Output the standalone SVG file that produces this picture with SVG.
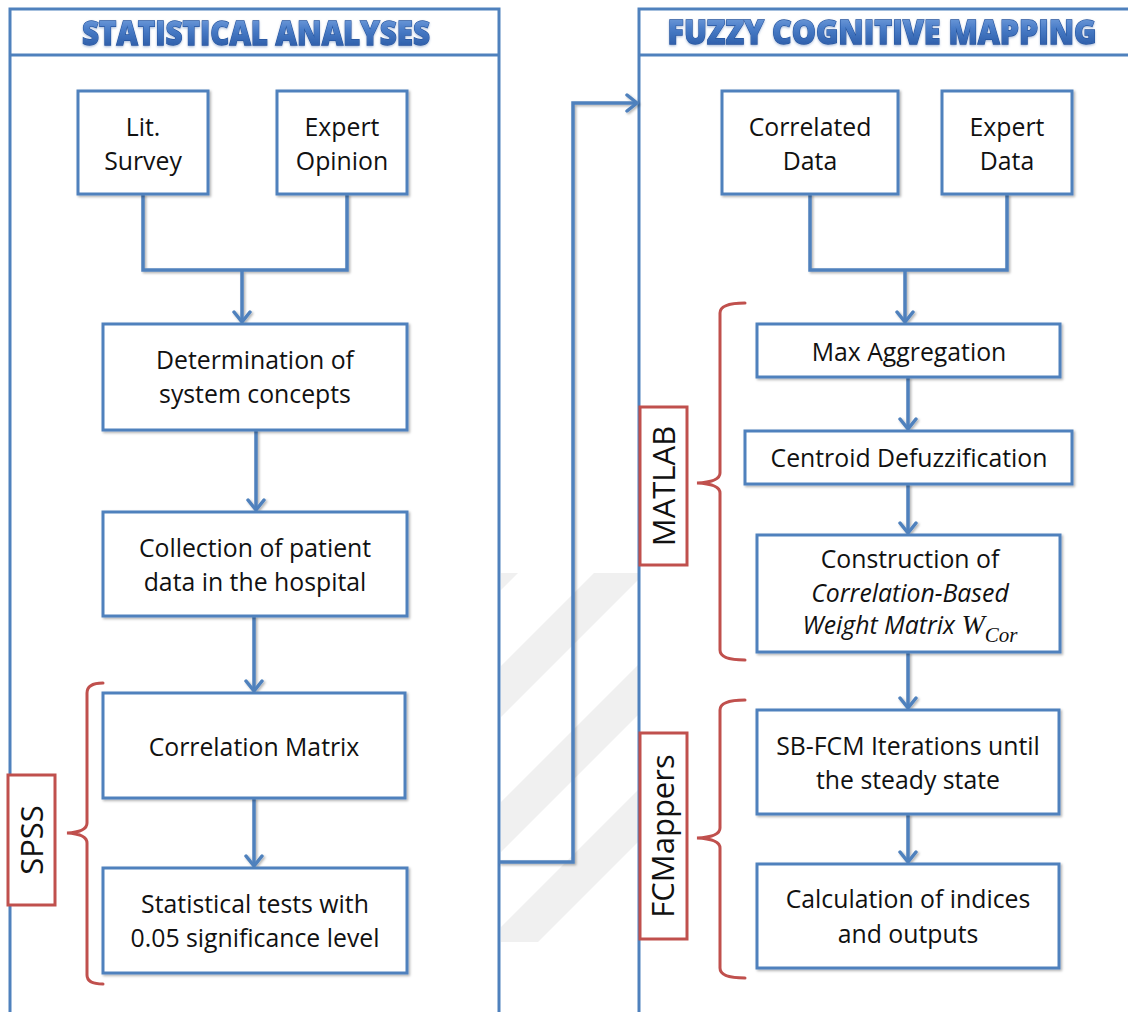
<svg xmlns="http://www.w3.org/2000/svg" width="1128" height="1012" viewBox="0 0 1128 1012">
  <defs>
    <style>
      .frame { fill: none; stroke: #4F81BD; stroke-width: 3; }
      .box { fill: #FFFFFF; stroke: #4F81BD; stroke-width: 3; }
      .link { fill: none; stroke: #4F81BD; stroke-width: 3.5; stroke-linejoin: miter; }
      .brace { fill: none; stroke: #C0504D; stroke-width: 3; stroke-linecap: round; }
      .tag { fill: #FFFFFF; stroke: #C0504D; stroke-width: 3; }
      .lbl { font-family: "Open Sans", "Liberation Sans", sans-serif; font-size: 24.8px; fill: #111111; text-anchor: middle; }
      .it { font-style: italic; }
      .tagtxt { font-family: "Open Sans", "Liberation Sans", sans-serif; font-size: 31px; fill: #111111; text-anchor: middle; }
      .title { font-family: "Open Sans", "Liberation Sans", sans-serif; font-weight: 800; font-size: 27px; text-anchor: middle; fill: url(#titleFill); stroke: #24549E; stroke-width: 1; paint-order: stroke; }
      .wm { fill: #F0F0F0; }
    </style>
    <linearGradient id="titleFill" x1="0" y1="0" x2="0" y2="1">
      <stop offset="0" stop-color="#8FB4E8"/>
      <stop offset="0.45" stop-color="#4A7DC8"/>
      <stop offset="1" stop-color="#1F4E9A"/>
    </linearGradient>
    <filter id="shadow" x="-5%" y="-5%" width="115%" height="115%">
      <feDropShadow dx="1.5" dy="1.5" stdDeviation="1.2" flood-color="#000000" flood-opacity="0.3"/>
    </filter>
    <filter id="glow" x="-10%" y="-60%" width="120%" height="220%">
      <feDropShadow dx="0" dy="1" stdDeviation="1" flood-color="#5A7FB8" flood-opacity="0.5"/>
    </filter>
    <marker id="chev" viewBox="0 0 14 20" refX="12" refY="10" markerWidth="14" markerHeight="20" markerUnits="userSpaceOnUse" orient="auto">
      <path d="M2,2 L12,10 L2,18" fill="none" stroke="#4F81BD" stroke-width="3.5" stroke-linecap="round" stroke-linejoin="round"/>
    </marker>
    <clipPath id="gap">
      <rect x="501" y="573" width="137" height="369"/>
    </clipPath>
  </defs>

  <rect x="0" y="0" width="1128" height="1012" fill="#FFFFFF"/>

  <!-- faint diagonal background stripes between the two panels -->
  <g id="backdrop-stripes" clip-path="url(#gap)">
    <polygon class="wm" points="1040,0 1091,0 91,1000 40,1000"/>
    <polygon class="wm" points="1167,0 1218,0 218,1000 167,1000"/>
    <polygon class="wm" points="1303,0 1353,0 353,1000 303,1000"/>
    <polygon class="wm" points="1428,0 1480,0 480,1000 428,1000"/>
  </g>

  <!-- panel frames -->
  <g id="panel-statistical">
    <path class="frame" d="M10,1020 V9 H499 V1020 M10,55 H499"/>
    <g transform="translate(256,45) scale(1,1.26)">
      <text class="title" x="0" y="0" textLength="348" lengthAdjust="spacingAndGlyphs" filter="url(#glow)">STATISTICAL ANALYSES</text>
    </g>
  </g>
  <g id="panel-fcm">
    <path class="frame" d="M639,1020 V9 H1130 M639,55 H1130"/>
    <g transform="translate(882,44) scale(1,1.26)">
      <text class="title" x="0" y="0" textLength="429" lengthAdjust="spacingAndGlyphs" filter="url(#glow)">FUZZY COGNITIVE MAPPING</text>
    </g>
  </g>

  <!-- connectors -->
  <g id="connectors" filter="url(#shadow)">
    <path class="link" d="M143,194 V270 H347 V194"/>
    <path class="link" d="M242,270 V322" marker-end="url(#chev)"/>
    <path class="link" d="M256,430 V510" marker-end="url(#chev)"/>
    <path class="link" d="M254,616 V691" marker-end="url(#chev)"/>
    <path class="link" d="M254,798 V866" marker-end="url(#chev)"/>
    <path class="link" d="M499,862 H573 V103 H637" marker-end="url(#chev)"/>
    <path class="link" d="M810,194 V270 H1007 V194"/>
    <path class="link" d="M905,270 V322" marker-end="url(#chev)"/>
    <path class="link" d="M908,377 V429" marker-end="url(#chev)"/>
    <path class="link" d="M908,484 V533" marker-end="url(#chev)"/>
    <path class="link" d="M908,652 V708" marker-end="url(#chev)"/>
    <path class="link" d="M908,814 V862" marker-end="url(#chev)"/>
  </g>

  <!-- left panel nodes -->
  <g id="lit-survey">
    <rect class="box" x="78" y="91" width="130" height="103" filter="url(#shadow)"/>
    <text class="lbl"><tspan x="143" y="136">Lit.</tspan><tspan x="143" y="170">Survey</tspan></text>
  </g>
  <g id="expert-opinion">
    <rect class="box" x="277" y="91" width="130" height="103" filter="url(#shadow)"/>
    <text class="lbl"><tspan x="342" y="136">Expert</tspan><tspan x="342" y="170">Opinion</tspan></text>
  </g>
  <g id="system-concepts">
    <rect class="box" x="103" y="324" width="304" height="106" filter="url(#shadow)"/>
    <text class="lbl"><tspan x="255" y="369">Determination of</tspan><tspan x="255" y="403">system concepts</tspan></text>
  </g>
  <g id="patient-data">
    <rect class="box" x="103" y="512" width="304" height="104" filter="url(#shadow)"/>
    <text class="lbl"><tspan x="255" y="557">Collection of patient</tspan><tspan x="255" y="591">data in the hospital</tspan></text>
  </g>
  <g id="correlation-matrix">
    <rect class="box" x="103" y="693" width="302" height="105" filter="url(#shadow)"/>
    <text class="lbl" x="254" y="756">Correlation Matrix</text>
  </g>
  <g id="statistical-tests">
    <rect class="box" x="103" y="868" width="304" height="105" filter="url(#shadow)"/>
    <text class="lbl"><tspan x="255" y="913">Statistical tests with</tspan><tspan x="255" y="947">0.05 significance level</tspan></text>
  </g>

  <!-- right panel nodes -->
  <g id="correlated-data">
    <rect class="box" x="722" y="91" width="176" height="103" filter="url(#shadow)"/>
    <text class="lbl"><tspan x="810" y="136">Correlated</tspan><tspan x="810" y="170">Data</tspan></text>
  </g>
  <g id="expert-data">
    <rect class="box" x="942" y="91" width="130" height="103" filter="url(#shadow)"/>
    <text class="lbl"><tspan x="1007" y="136">Expert</tspan><tspan x="1007" y="170">Data</tspan></text>
  </g>
  <g id="max-aggregation">
    <rect class="box" x="757" y="324" width="303" height="53" filter="url(#shadow)"/>
    <text class="lbl" x="909" y="361">Max Aggregation</text>
  </g>
  <g id="centroid-defuzzification">
    <rect class="box" x="745" y="431" width="327" height="53" filter="url(#shadow)"/>
    <text class="lbl" x="909" y="467">Centroid Defuzzification</text>
  </g>
  <g id="weight-matrix">
    <rect class="box" x="757" y="535" width="303" height="117" filter="url(#shadow)"/>
    <text class="lbl" x="910" y="568">Construction of</text>
    <text class="lbl it" x="910" y="602">Correlation-Based</text>
    <text class="lbl" x="910" y="634"><tspan class="it">Weight Matrix </tspan><tspan font-family="'Liberation Serif', serif" font-style="italic" font-size="28px">W</tspan><tspan font-family="'Liberation Serif', serif" font-style="italic" font-size="21px" dy="8">Cor</tspan></text>
  </g>
  <g id="sb-fcm-iterations">
    <rect class="box" x="757" y="710" width="302" height="104" filter="url(#shadow)"/>
    <text class="lbl"><tspan x="908" y="755">SB-FCM Iterations until</tspan><tspan x="908" y="789">the steady state</tspan></text>
  </g>
  <g id="indices-outputs">
    <rect class="box" x="757" y="864" width="302" height="104" filter="url(#shadow)"/>
    <text class="lbl"><tspan x="908" y="908">Calculation of indices</tspan><tspan x="908" y="943">and outputs</tspan></text>
  </g>

  <!-- tool brackets and tags -->
  <g id="spss">
    <path class="brace" d="M103,683 Q87,683 87,693 V823 Q87,832 67,833 Q87,834 87,843 V975 Q87,984 103,984"/>
    <rect class="tag" x="8" y="775" width="47" height="130"/>
    <text class="tagtxt" transform="translate(43,840) rotate(-90)">SPSS</text>
  </g>
  <g id="matlab">
    <path class="brace" d="M745,303 Q720,303 720,313 V473 Q720,482 697,483 Q720,484 720,493 V650 Q720,660 745,660"/>
    <rect class="tag" x="640" y="407" width="47" height="158"/>
    <text class="tagtxt" transform="translate(675,486) rotate(-90)">MATLAB</text>
  </g>
  <g id="fcmappers">
    <path class="brace" d="M745,700 Q720,700 720,710 V828 Q720,837 697,838 Q720,839 720,848 V968 Q720,978 745,978"/>
    <rect class="tag" x="640" y="733" width="47" height="206"/>
    <text class="tagtxt" transform="translate(674,836) rotate(-90)">FCMappers</text>
  </g>
</svg>
